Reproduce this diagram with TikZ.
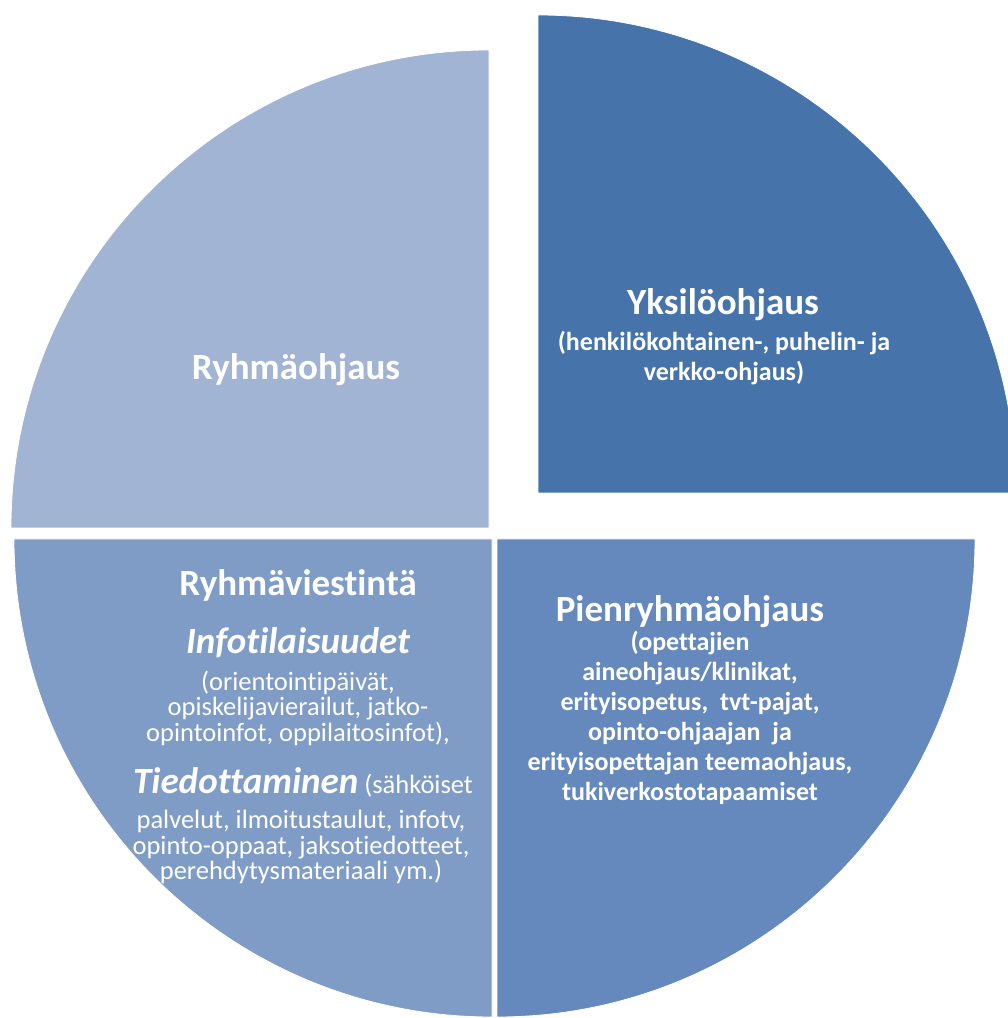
\documentclass[tikz,border=0pt]{standalone}
\usepackage{fontspec}
\setmainfont{Carlito}[Ligatures=NoCommon]
\definecolor{groupcol}{RGB}{162,180,212}
\definecolor{indivcol}{RGB}{70,116,170}
\definecolor{smallcol}{RGB}{101,137,188}
\definecolor{commcol}{RGB}{127,156,199}

\begin{document}
\begin{tikzpicture}[x=1pt,y=1pt,
    slice/.style={draw=white,line width=.8pt},
    title/.style={text=white,font=\bfseries\fontsize{37}{40}\selectfont,align=center},
    subtitle/.style={text=white,font=\bfseries\itshape\fontsize{37}{40}\selectfont,align=center},
    body/.style={text=white,font=\bfseries\fontsize{26}{30}\selectfont,align=center},
    plain/.style={text=white,font=\fontsize{26.5}{25.5}\selectfont,align=center}]
    \useasboundingbox (0,0) rectangle (1008,1018);
    \clip (0,0) rectangle (1008,1018);
    % the four quarters
    \fill[groupcol,slice] (489,490) -- ++(0,478) arc (90:180:478) -- cycle;
    \fill[indivcol,slice] (538,525) -- ++(478,0) arc (0:90:478) -- cycle;
    \fill[smallcol,slice] (497,479) -- ++(0,-478) arc (270:360:478) -- cycle;
    \fill[commcol,slice] (492,479) -- ++(-478,0) arc (180:270:478) -- cycle;
    % texts
    \node[title] (group) at (296,648) {Ryhmäohjaus};
    \node[title] (indiv) at (723,713) {Yksilöohjaus};
    \node[body] (indivtxt) at (724,660) {(henkilökohtainen-, puhelin- ja\\verkko-ohjaus)};
    \node[title] (small) at (690,406) {Pienryhmäohjaus};
    \node[body] (smalltxt) at (690,300) {(opettajien\\aineohjaus/klinikat,\\erityisopetus,\ \ tvt-pajat,\\opinto-ohjaajan\ \ ja\\erityisopettajan teemaohjaus,\\tukiverkostotapaamiset};
    \node[title] (comm) at (298,433) {Ryhmäviestintä};
    \node[subtitle] (info) at (298,375) {Infotilaisuudet};
    \node[plain] (infotxt) at (298,310) {(orientointipäivät,\\opiskelijavierailut, jatko-\\opintoinfot, oppilaitosinfot),};
    \node[plain] (tied) at (303,236) {{\bfseries\itshape\fontsize{37}{40}\selectfont Tiedottaminen} (sähköiset};
    \node[plain] (tiedtxt) at (301,171) {palvelut, ilmoitustaulut, infotv,\\opinto-oppaat, jaksotiedotteet,\\perehdytysmateriaali ym.)};
\end{tikzpicture}
\end{document}
